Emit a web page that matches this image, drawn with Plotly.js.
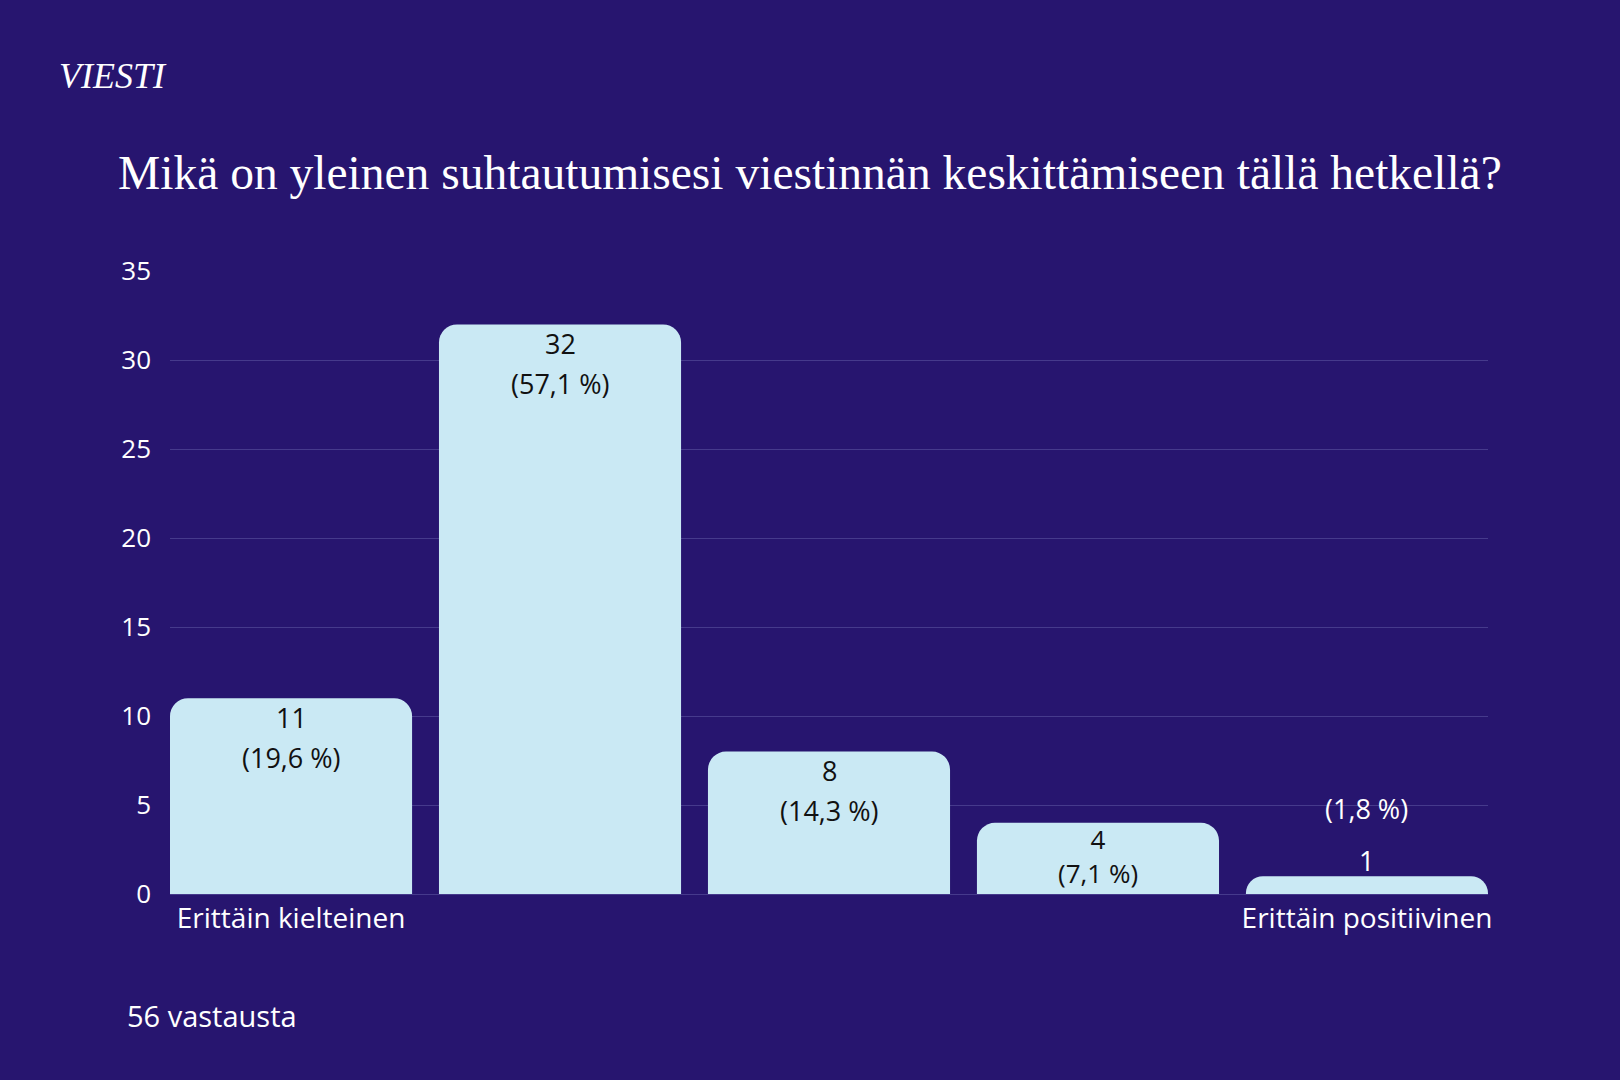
<!DOCTYPE html>
<html>
<head>
<meta charset="utf-8">
<script src="https://cdn.plot.ly/plotly-3.0.1.min.js"></script>
<style>
  html, body { margin: 0; padding: 0; background: #27156f; }
  #chart { width: 1620px; height: 1080px; }
</style>
</head>
<body>
<div id="chart"></div>
<script>
// ---- data ----
const categories = ['1', '2', '3', '4', '5'];
const counts = [11, 32, 8, 4, 1];
const percents = [19.6, 57.1, 14.3, 7.1, 1.8];
const tickLabels = ['Erittäin kielteinen', '', '', '', 'Erittäin positiivinen'];
const yTickVals = [0, 5, 10, 15, 20, 25, 30, 35];
const titleText = 'Mikä on yleinen suhtautumisesi viestinnän keskittämiseen tällä hetkellä?';
const logoText = 'VIESTI';
const footerText = '56 vastausta';

// ---- layout geometry ----
const W = 1620, H = 1080;
const M = { l: 170, r: 132, t: 271, b: 186 };
const plotW = W - M.l - M.r;
const plotH = H - M.t - M.b;
const yMax = 35;
const pxX = px => (px - M.l) / plotW;
const pxY = py => (H - M.b - py) / plotH;

const BG = '#27156f';
const BAR = '#cae9f4';
const GRID = '#463a8c';
const SANS = '"Open Sans", "Noto Sans", sans-serif';
const SERIF = '"Liberation Serif", "DejaVu Serif", serif';

const fmtPct = p => '(' + p.toFixed(1).replace('.', ',') + ' %)';

const annotations = [];
counts.forEach((v, i) => {
  const barPx = v * plotH / yMax;
  const dark = '#111111';
  if (barPx > 100) {
    annotations.push({
      x: i, y: v, xref: 'x', yref: 'y', text: String(v),
      showarrow: false, yanchor: 'middle', xanchor: 'center', yshift: -19,
      font: { family: SANS, size: 27, color: dark }
    });
    annotations.push({
      x: i, y: v, xref: 'x', yref: 'y', text: fmtPct(percents[i]),
      showarrow: false, yanchor: 'middle', xanchor: 'center', yshift: -59,
      font: { family: SANS, size: 27, color: dark }
    });
  } else if (barPx > 50) {
    // short bar: both lines packed tightly inside the bar
    annotations.push({
      x: i, y: v, xref: 'x', yref: 'y', text: String(v) + '<br>' + fmtPct(percents[i]),
      showarrow: false, yanchor: 'middle', xanchor: 'center', yshift: -33,
      font: { family: SANS, size: 26, color: dark }
    });
  } else {
    annotations.push({
      x: i, y: v, xref: 'x', yref: 'y', text: String(v),
      showarrow: false, yanchor: 'middle', xanchor: 'center', yshift: 16,
      font: { family: SANS, size: 27, color: '#ffffff' }
    });
    annotations.push({
      x: i, y: v, xref: 'x', yref: 'y', text: fmtPct(percents[i]),
      showarrow: false, yanchor: 'middle', xanchor: 'center', yshift: 68,
      font: { family: SANS, size: 27, color: '#ffffff' }
    });
  }
});

annotations.push({
  xref: 'paper', yref: 'paper', x: pxX(57), y: pxY(76), xanchor: 'left', yanchor: 'middle',
  text: logoText, showarrow: false,
  font: { family: SERIF, size: 36, color: '#ffffff', style: 'italic' }
});
annotations.push({
  xref: 'paper', yref: 'paper', x: pxX(125), y: pxY(1015), xanchor: 'left', yanchor: 'middle',
  text: footerText, showarrow: false,
  font: { family: SANS, size: 29, color: '#ffffff' }
});

const trace = {
  type: 'bar',
  x: categories,
  y: counts,
  marker: { color: BAR, cornerradius: 18, line: { width: 0 } },
  hoverinfo: 'skip'
};

const layout = {
  width: W, height: H,
  margin: M,
  paper_bgcolor: BG,
  plot_bgcolor: BG,
  bargap: 0.1,
  showlegend: false,
  title: {
    text: titleText,
    font: { family: SERIF, size: 47.5, color: '#ffffff' },
    xref: 'container', yref: 'container',
    x: 118 / W, xanchor: 'left',
    y: 1 - 172 / H, yanchor: 'middle'
  },
  xaxis: {
    type: 'category',
    range: [-0.45, 4.45],
    tickvals: categories,
    ticktext: tickLabels,
    showgrid: false,
    zeroline: false,
    showline: false,
    ticks: '',
    ticklabelstandoff: 5,
    tickfont: { family: SANS, size: 28, color: '#ffffff' },
    fixedrange: true
  },
  yaxis: {
    range: [0, yMax],
    tickvals: yTickVals,
    showgrid: true,
    gridcolor: GRID,
    gridwidth: 1,
    zeroline: true,
    zerolinecolor: GRID,
    zerolinewidth: 1,
    showline: false,
    ticks: '',
    ticklabelstandoff: 18,
    tickfont: { family: SANS, size: 26, color: '#ffffff' },
    fixedrange: true
  },
  annotations: annotations
};

Plotly.newPlot('chart', [trace], layout, { staticPlot: true, displayModeBar: false });
</script>
</body>
</html>
